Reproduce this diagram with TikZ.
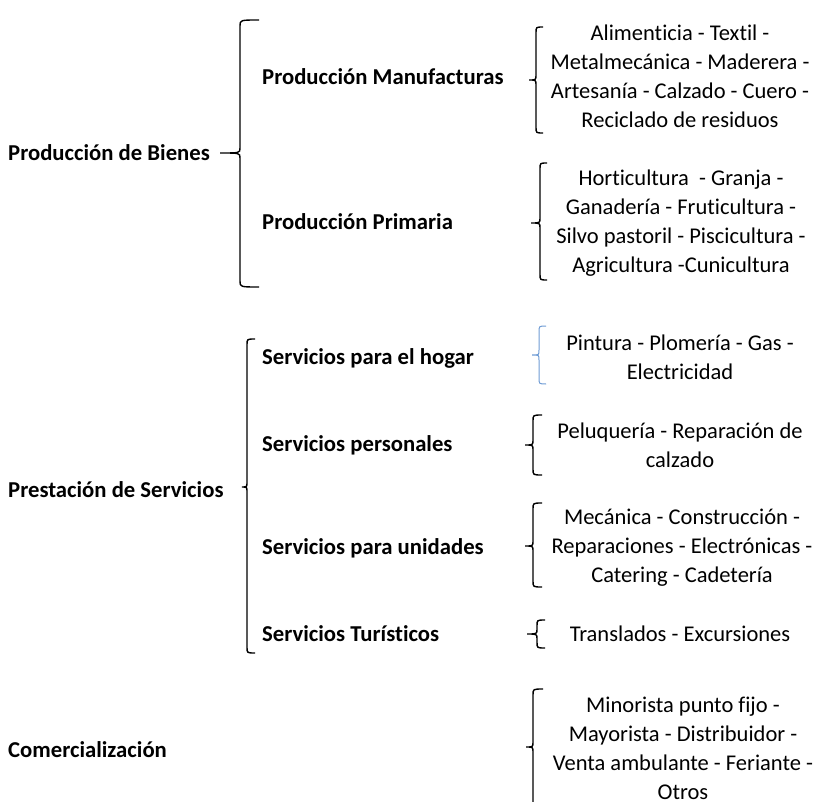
\documentclass[tikz,border=0pt]{standalone}
\usepackage{fontspec}
\setmainfont[Ligatures={NoCommon}]{Carlito}
\definecolor{bracecol}{RGB}{0,0,0}
\definecolor{lightbrace}{RGB}{110,155,212}
\tikzset{
  lbl/.style={anchor=west,inner sep=0pt,font=\bfseries\fontsize{22.7}{26}\selectfont},
  item/.style={anchor=center,inner sep=0pt,align=center,font=\fontsize{22.5}{29}\selectfont},
  brc/.style={line width=1.4pt,draw=bracecol},
}
% #2 x of line, #3 top, #4 cusp y, #5 bottom, #6 tip x, #7 hook x
\newcommand{\wbrace}[7][]{%
  \draw[brc,#1] (#7,#3) .. controls (#2,#3) .. (#2,#3+6)
    -- (#2,#4-5) .. controls (#2,#4) .. (#6,#4)
    .. controls (#2,#4) .. (#2,#4+5)
    -- (#2,#5-6) .. controls (#2,#5) .. (#7,#5);}
\begin{document}
\begin{tikzpicture}[x=1pt,y=-1pt]
\useasboundingbox (0,0) rectangle (819,802);
% left column
\node[lbl] (bienes) at (8,153) {Producción de Bienes};
\node[lbl] (servicios) at (8,490) {Prestación de Servicios};
\node[lbl] (comerc) at (8,750) {Comercialización};
% middle column
\node[lbl] (manuf) at (262,77) {Producción Manufacturas};
\node[lbl] (prim) at (262,222) {Producción Primaria};
\node[lbl] (hogar) at (262,358) {Servicios para el hogar};
\node[lbl] (pers) at (262,445) {Servicios personales};
\node[lbl] (unid) at (262,548) {Servicios para unidades};
\node[lbl] (tur) at (262,634) {Servicios Turísticos};
% right column
\node[item] (manufi) at (680,76.5) {Alimenticia - Textil -\\Metalmecánica - Maderera -\\Artesanía - Calzado - Cuero -\\Reciclado de residuos};
\node[item] (primi) at (681,223.5) {Horticultura\ \ - Granja -\\Ganadería - Fruticultura -\\Silvo pastoril - Piscicultura -\\Agricultura -Cunicultura};
\node[item] (hogari) at (680,357.5) {Pintura - Plomería - Gas -\\Electricidad};
\node[item] (persi) at (680,445.5) {Peluquería - Reparación de\\calzado};
\node[item] (unidi) at (682,548) {Mecánica - Construcción -\\Reparaciones - Electrónicas -\\Catering - Cadetería};
\node[item] (turi) at (680,634) {Translados - Excursiones};
\node[item] (comi) at (683,748) {Minorista punto fijo -\\Mayorista - Distribuidor -\\Venta ambulante - Feriante -\\Otros};
% braces: x, top, cusp, bottom, tip, hook
\wbrace{240}{20}{153}{287}{220}{259}
\wbrace{536}{27}{80}{133}{529}{543}
\wbrace{540}{163}{223}{280}{531}{547}
\wbrace{247}{339}{487}{653}{242}{255}
\wbrace[draw=lightbrace,line width=1pt]{539}{326}{355}{384}{532}{546}
\wbrace{533}{415}{445}{475}{525}{542}
\wbrace{533}{503}{546}{587}{525}{542}
\wbrace{537}{620}{634}{648}{527}{545}
\wbrace{533}{689}{747}{810}{526}{543}
\end{tikzpicture}
\end{document}
